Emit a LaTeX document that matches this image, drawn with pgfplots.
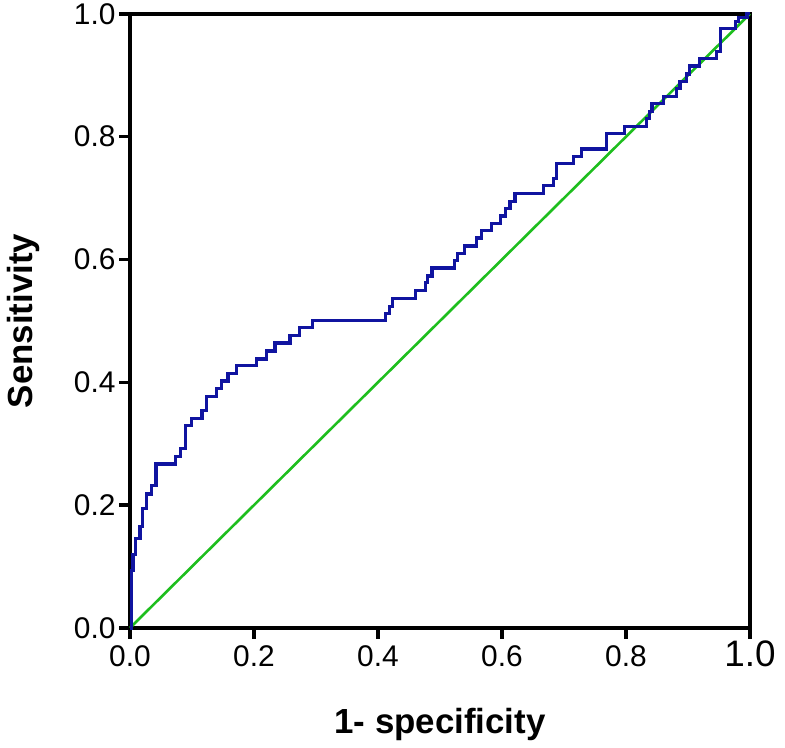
\documentclass[border=0pt]{standalone}
\usepackage{fontspec}
\setmainfont{Liberation Sans}
\usepackage{pgfplots}
\pgfplotsset{compat=1.18}
\definecolor{rocblue}{RGB}{16,20,160}
\definecolor{rocgreen}{RGB}{30,190,30}
\begin{document}
\begin{tikzpicture}
\begin{axis}[
  scale only axis, width=620bp, height=614bp,
  xmin=0, xmax=1, ymin=0, ymax=1,
  axis line style={line width=3.5bp, black},
  xtick={0,0.2,0.4,0.6,0.8,1},
  ytick={0,0.2,0.4,0.6,0.8,1},
  xtick pos=bottom, ytick pos=left,
  tick align=outside,
  major tick length=11bp,
  tick style={line width=3.5bp, black},
  xticklabels={0.0,0.2,0.4,0.6,0.8,{\fontsize{37}{40}\selectfont 1.0}},
  yticklabels={0.0,0.2,0.4,0.6,0.8,1.0},
  ticklabel style={font=\fontsize{30}{32}\selectfont},
  xticklabel style={anchor=base, yshift=-28bp},
  yticklabel style={anchor=east},
  xlabel={1- specificity}, ylabel={Sensitivity},
  label style={font=\bfseries\fontsize{35}{40}\selectfont},
  xlabel style={at={(axis description cs:0.5,-0.172)}, anchor=base},
  ylabel style={at={(axis description cs:-0.157,0.5)}, anchor=base, rotate=0},
  clip=false,
]
\addplot[rocgreen, line width=2.6bp] coordinates {(0,0) (1,1)};
\addplot[rocblue, line width=3.2bp, const plot, line join=miter] coordinates {
(0,0)
(0.002,0.094)
(0.005,0.12)
(0.009,0.145)
(0.016,0.165)
(0.02,0.194)
(0.027,0.218)
(0.035,0.232)
(0.042,0.267)
(0.073,0.279)
(0.081,0.292)
(0.089,0.329)
(0.099,0.341)
(0.116,0.354)
(0.124,0.377)
(0.140,0.390)
(0.148,0.402)
(0.158,0.414)
(0.172,0.427)
(0.204,0.438)
(0.220,0.451)
(0.234,0.464)
(0.258,0.476)
(0.274,0.489)
(0.295,0.5)
(0.412,0.512)
(0.418,0.524)
(0.424,0.537)
(0.460,0.549)
(0.476,0.562)
(0.480,0.573)
(0.487,0.586)
(0.524,0.598)
(0.528,0.610)
(0.540,0.622)
(0.559,0.635)
(0.567,0.647)
(0.583,0.659)
(0.597,0.671)
(0.605,0.683)
(0.613,0.695)
(0.621,0.707)
(0.667,0.720)
(0.683,0.732)
(0.688,0.756)
(0.715,0.768)
(0.728,0.780)
(0.769,0.805)
(0.798,0.817)
(0.833,0.829)
(0.838,0.841)
(0.842,0.854)
(0.860,0.866)
(0.882,0.878)
(0.887,0.890)
(0.897,0.902)
(0.903,0.915)
(0.919,0.927)
(0.946,0.939)
(0.952,0.976)
(0.976,0.988)
(0.982,0.994)
(0.995,1.0)
(1,1)
};
\end{axis}
\path[use as bounding box] (-130bp,-120bp) rectangle (655bp,627bp);
\end{tikzpicture}
\end{document}
